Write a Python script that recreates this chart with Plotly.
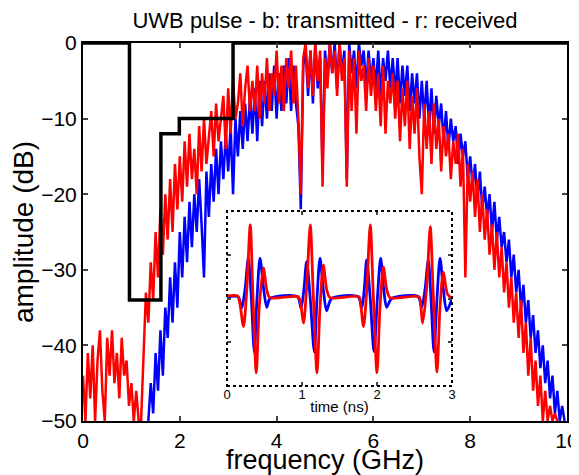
import numpy as np
import plotly.graph_objects as go

# ---------------- data ----------------
# received spectrum (red), 0.00 .. 9.80 GHz, step 0.05 GHz
red_start = 0.0
red_db = [
    -44, -50, -41, -47, -40, -50, -42, -38, -46, -50,
    -39, -44, -38, -45, -41, -47, -39, -44, -42, -48,
    -45, -50, -46, -50, -50, -40, -33, -37, -29, -34,
    -25, -31, -22, -28, -20, -26, -18, -25, -16, -22,
    -15, -21, -13, -19, -12, -18, -14, -20, -11, -17,
    -10, -16, -12, -9, -15, -8, -13, -10, -7, -14,
    -6, -12, -5, -10, -8, -4, -11, -6, -3, -9,
    -5, -9, -3, -10, -4, -8, -2, -9, -4, -7,
    -1, -8, -3, -9, -2, -6, -1, -8, -3, -10,
    -20, -2, 0, -6, -1, -7, 0, -5, -1, -19,
    -2, -6, 0, -4, -1, -7, 0, -5, -2, -19,
    -1, -9, -2, -12, -1, -5, -3, -9, -2, -7,
    -3, -9, -4, -11, -3, -12, -5, -8, -4, -10,
    -5, -13, -6, -11, -5, -14, -7, -12, -6, -15,
    -20, -8, -14, -9, -16, -8, -14, -10, -17, -11,
    -15, -12, -18, -13, -16, -12, -19, -14, -31, -16,
    -21, -17, -23, -18, -25, -20, -26, -22, -28, -24,
    -30, -25, -31, -27, -33, -29, -35, -31, -37, -33,
    -39, -34, -41, -37, -44, -39, -46, -42, -48, -44,
    -50, -46, -50, -48, -50, -49, -50,
]
# transmitted spectrum (blue), 1.35 .. 9.95 GHz, step 0.05 GHz
blue_start = 1.35
blue_db = [
    -50, -45, -49,
    -41, -46, -38, -44, -35, -39, -31, -37, -29, -35,
    -25, -31, -23, -29, -21, -27, -20, -25, -18, -24,
    -31, -17, -23, -16, -21, -14, -20, -13, -18, -12,
    -17, -11, -20, -10, -15, -9, -14, -8, -13, -7,
    -12, -6, -13, -5, -11, -5, -10, -4, -9, -3,
    -10, -4, -9, -3, -8, -2, -9, -3, -8, -11,
    -22, -3, -1, -7, -1, -8, 0, -6, -2, -17,
    -1, -5, 0, -4, 0, -6, 0, -4, -1, -18,
    0, -4, -1, -6, 0, -3, -1, -6, -1, -5,
    -2, -6, -1, -7, -2, -5, -1, -6, -2, -7,
    -2, -8, -3, -7, -3, -9, -4, -8, -4, -10,
    -5, -10, -5, -11, -6, -12, -7, -11, -8, -13,
    -9, -14, -10, -13, -11, -16, -12, -15, -13, -18,
    -15, -19, -16, -21, -17, -22, -19, -23, -20, -25,
    -21, -26, -23, -27, -25, -29, -26, -31, -28, -33,
    -30, -35, -32, -37, -34, -39, -36, -41, -38, -43,
    -40, -45, -42, -47, -44, -49, -46, -50, -48, -50,
]
freq_step = 0.05

# FCC indoor mask (black)
mask_f = [0, 0.96, 0.96, 1.61, 1.61, 1.99, 1.99, 3.1, 3.1, 10.6]
mask_db = [0, 0, -34, -34, -12, -12, -10, -10, 0, 0]

# inset: time-domain pulses
t_red = [0.00, 0.14, 0.17, 0.22, 0.26, 0.31, 0.345, 0.39, 0.43, 0.485, 0.53, 0.57,
         0.95, 0.98, 1.02, 1.06, 1.11, 1.15, 1.20, 1.24, 1.285, 1.33, 1.375,
         1.76, 1.78, 1.82, 1.86, 1.91, 1.95, 2.00, 2.04, 2.085, 2.13, 2.175,
         2.56, 2.58, 2.61, 2.66, 2.71, 2.75, 2.80, 2.84, 2.885, 2.94, 3.00]
v_red = [0.03, 0.03, -0.05, -0.32, 0.05, 0.84, 0.05, -0.85, -0.1, 0.35, 0.1, 0.01,
         0.02, -0.05, -0.28, 0.1, 0.84, 0.05, -0.85, -0.1, 0.38, 0.1, 0.01,
         0.02, -0.05, -0.32, 0.05, 0.84, 0.05, -0.85, -0.1, 0.36, 0.1, 0.01,
         0.02, -0.05, -0.28, 0.1, 0.82, 0.05, -0.84, -0.1, 0.30, 0.05, 0.0]
t_blue = [0.00, 0.15, 0.196, 0.24, 0.284, 0.325, 0.364, 0.40, 0.44, 0.49, 0.53, 0.575,
          0.94, 0.987, 1.025, 1.062, 1.11, 1.164, 1.20, 1.24, 1.285, 1.329, 1.395,
          1.75, 1.796, 1.83, 1.862, 1.91, 1.96, 2.005, 2.049, 2.09, 2.129, 2.196,
          2.55, 2.596, 2.64, 2.684, 2.72, 2.76, 2.80, 2.84, 2.885, 2.929, 3.00]
v_blue = [0.02, 0.02, -0.11, 0.1, 0.46, 0.0, -0.61, 0.0, 0.46, 0.1, -0.1, 0.0,
          0.02, -0.11, 0.1, 0.42, 0.0, -0.61, 0.0, 0.46, 0.1, -0.14, 0.0,
          0.02, -0.11, 0.1, 0.44, 0.0, -0.61, 0.0, 0.46, 0.1, -0.1, 0.0,
          0.02, -0.1, 0.1, 0.44, 0.0, -0.61, 0.0, 0.46, 0.1, -0.14, 0.0]

x_ticks = [0, 2, 4, 6, 8, 10]
y_ticks = [0, -10, -20, -30, -40, -50]
inset_x_ticks = [0, 1, 2, 3]
inset_y_ticks = [-1, -0.5, 0, 0.5, 1]

title_text = "UWB pulse - b: transmitted - r: received"

# ---------------- figure ----------------
FONT = "Liberation Sans, Arial, Helvetica, sans-serif"
red_f = np.round(red_start + freq_step * np.arange(len(red_db)), 3)
blue_f = np.round(blue_start + freq_step * np.arange(len(blue_db)), 3)

fig = go.Figure()
fig.add_trace(go.Scatter(x=blue_f, y=blue_db, mode="lines",
                         line=dict(color="#0000ff", width=2.5), xaxis="x", yaxis="y"))
fig.add_trace(go.Scatter(x=red_f, y=red_db, mode="lines",
                         line=dict(color="#ff0000", width=2.5), xaxis="x", yaxis="y"))
fig.add_trace(go.Scatter(x=mask_f, y=mask_db, mode="lines",
                         line=dict(color="black", width=3.5), xaxis="x", yaxis="y"))

fig.add_trace(go.Scatter(x=t_blue, y=v_blue, mode="lines",
                         line=dict(color="#0000ff", width=2.8, shape="spline", smoothing=0.8),
                         xaxis="x2", yaxis="y2"))
fig.add_trace(go.Scatter(x=t_red, y=v_red, mode="lines",
                         line=dict(color="#ff0000", width=2.8, shape="spline", smoothing=0.8),
                         xaxis="x2", yaxis="y2"))

# the page body adds an 8px margin; the figure is sized to compensate
OFF = 8
W, H = 579 - OFF, 475 - OFF
L, R, T, B = 83 - OFF, 12, 43 - OFF, 54
pw, ph = W - L - R, H - T - B
ix0, ix1, iy0, iy1 = 227 - OFF, 452 - OFF, 211 - OFF, 386 - OFF
dx = [(ix0 - L) / pw, (ix1 - L) / pw]
dy = [(H - B - iy1) / ph, (H - B - iy0) / ph]

fig.update_layout(
    width=W, height=H,
    margin=dict(l=L, r=R, t=T, b=B, autoexpand=False),
    paper_bgcolor="white", plot_bgcolor="white",
    showlegend=False,
    font=dict(family=FONT, color="black"),
    title=dict(text=title_text, x=0.5, xref="paper", xanchor="center",
               y=1 - (20 - OFF) / H, yref="container", yanchor="middle",
               font=dict(size=22, family=FONT, color="black")),
    xaxis=dict(range=[0, 10], tickvals=x_ticks, ticks="inside", ticklen=5, tickwidth=2,
               showline=True, linecolor="black", linewidth=2, mirror="ticks",
               showgrid=False, zeroline=False, tickfont=dict(size=21), automargin=False,
               title=dict(text="frequency (GHz)", font=dict(size=27), standoff=0)),
    yaxis=dict(range=[-50, 0], tickvals=y_ticks, ticks="inside", ticklen=5, tickwidth=2,
               showline=True, linecolor="black", linewidth=2, mirror="ticks",
               showgrid=False, zeroline=False, tickfont=dict(size=21), automargin=False,
               title=dict(text="amplitude (dB)", font=dict(size=28), standoff=10)),
    xaxis2=dict(domain=dx, anchor="y2", range=[0, 3], tickvals=inset_x_ticks,
                ticks="inside", ticklen=4, tickwidth=2, mirror="ticks",
                showline=False, showgrid=False, zeroline=False, automargin=False,
                tickfont=dict(size=13), ticklabelstandoff=-1,
                title=dict(text="time (ns)", font=dict(size=15), standoff=0)),
    yaxis2=dict(domain=dy, anchor="x2", range=[-1, 1], tickvals=inset_y_ticks,
                ticks="inside", ticklen=4, tickwidth=2, mirror="ticks", automargin=False,
                showline=False, showgrid=False, zeroline=False, showticklabels=False),
    shapes=[
        dict(type="rect", xref="x2 domain", yref="y2 domain", x0=0, x1=1, y0=0, y1=1,
             fillcolor="white", line=dict(width=0), layer="below"),
        dict(type="rect", xref="x2 domain", yref="y2 domain", x0=0, x1=1, y0=0, y1=1,
             fillcolor="rgba(0,0,0,0)", line=dict(color="black", width=2, dash="dot"),
             layer="above"),
    ],
)

fig.write_html("out.html")
